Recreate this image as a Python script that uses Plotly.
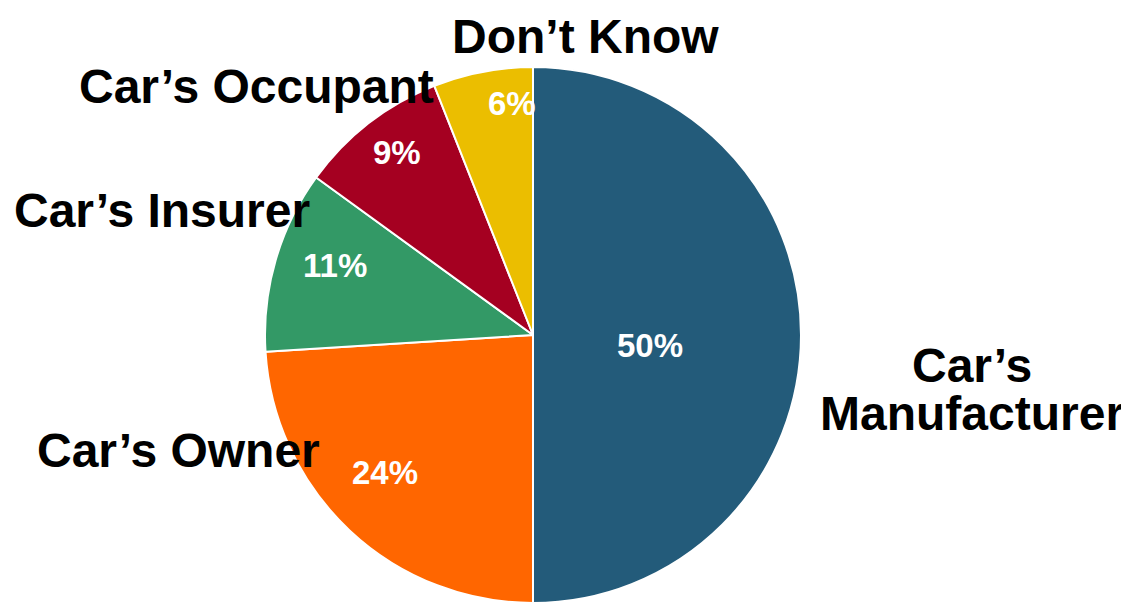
import plotly.graph_objects as go

# Data
categories = ["Car’s Manufacturer", "Car’s Owner", "Car’s Insurer", "Car’s Occupant", "Don’t Know"]
values = [50, 24, 11, 9, 6]
colors = ["#235B7A", "#FF6600", "#339966", "#A50021", "#EBBE00"]

OFF = 8  # page body margin
W, H = 1129 - OFF, 608 - OFF
cx, cy, r = 533 - OFF, 335 - OFF, 268  # pixel center / radius

fig = go.Figure(go.Pie(
    labels=categories,
    values=values,
    sort=False,
    direction="clockwise",
    rotation=0,
    marker=dict(colors=colors, line=dict(color="white", width=2)),
    textinfo="none",
    showlegend=False,
    hoverinfo="label+percent",
    domain=dict(x=[(cx - r) / W, (cx + r) / W], y=[(H - cy - r) / H, (H - cy + r) / H]),
))

FONT = "Liberation Sans, Arial, sans-serif"

def px(x, y):
    return (x - OFF) / W, 1 - (y - OFF) / H

# category label placement (pixel centres per line) in category order; None y = pinned to top
label_lines = [
    [(972, 365), (972, 413)],
    [(178, 450)],
    [(162, 210)],
    [(256, 86)],
    [(585, None)],
]
for name, lines in zip(categories, label_lines):
    parts = name.split(" ") if len(lines) > 1 else [name]
    for part, (x, y) in zip(parts, lines):
        if y is None:
            ax, ay, yanc = px(x, OFF)[0], 1.0, "top"
        else:
            (ax, ay), yanc = px(x, y), "middle"
        fig.add_annotation(
            x=ax, y=ay, xref="paper", yref="paper",
            text=part, showarrow=False, xanchor="center", yanchor=yanc,
            font=dict(family=FONT, size=48, color="black", weight="bold"),
        )

# percentage labels inside slices
pct_pos = [(650, 345), (385, 472), (335, 266), (397, 152), (512, 103)]
for v, (x, y) in zip(values, pct_pos):
    ax, ay = px(x, y)
    fig.add_annotation(
        x=ax, y=ay, xref="paper", yref="paper",
        text=f"{v}%", showarrow=False, xanchor="center", yanchor="middle",
        font=dict(family=FONT, size=33, color="white", weight="bold"),
    )

fig.update_layout(
    width=W, height=H,
    margin=dict(l=0, r=0, t=0, b=0),
    paper_bgcolor="white",
    plot_bgcolor="white",
)

fig.write_html("out.html")
